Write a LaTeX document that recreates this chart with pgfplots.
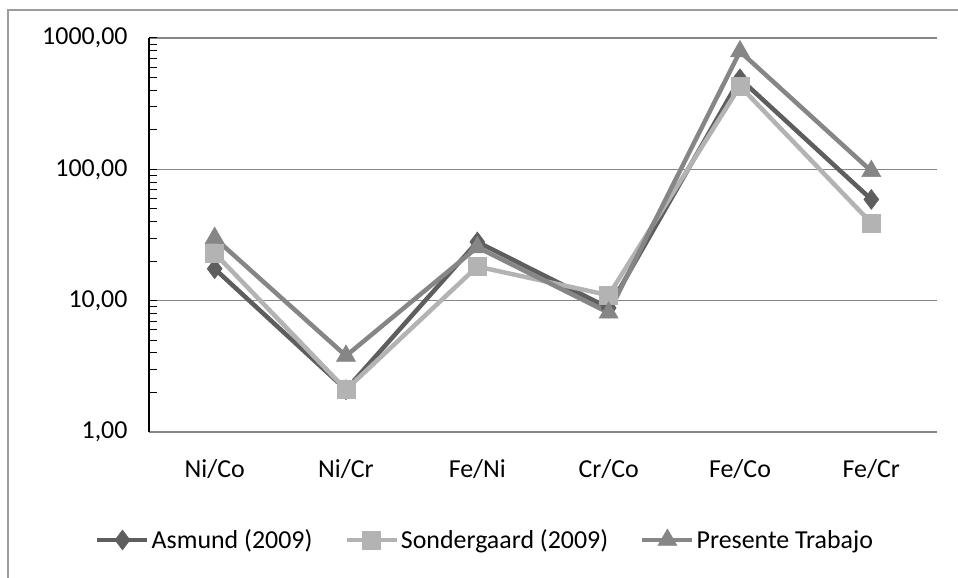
\documentclass[border=0pt]{standalone}
\usepackage{pgfplots}
\pgfplotsset{compat=1.18}
\usepackage{fontspec}
\setmainfont{Carlito}
\definecolor{cA}{HTML}{5E5E5E}
\definecolor{cS}{HTML}{B3B3B3}
\definecolor{cP}{HTML}{868686}
\definecolor{gridc}{HTML}{868686}
\definecolor{framec}{HTML}{9C9C9C}
\begin{document}
\begin{tikzpicture}
\useasboundingbox (0,0) rectangle (958bp,578bp);
\draw[framec, line width=1.2bp] (8bp,-10bp) rectangle (975bp,568bp);
\begin{axis}[
  at={(149bp,146bp)}, anchor=south west,
  width=788bp, height=394bp, scale only axis,
  ymode=log, ymin=1, ymax=1000,
  xmin=-0.5, xmax=5.5,
  xtick={0,1,2,3,4,5},
  xticklabels={Ni/Co,Ni/Cr,Fe/Ni,Cr/Co,Fe/Co,Fe/Cr},
  ytick={1,10,100,1000},
  yticklabels={{1,00},{10,00},{100,00},{1000,00}},
  minor ytick={2,3,4,5,6,7,8,9,20,30,40,50,60,70,80,90,200,300,400,500,600,700,800,900},
  axis x line=bottom, axis y line=left,
  x axis line style={-, draw=gridc, line width=1.2bp},
  y axis line style={-, draw=black, line width=1.2bp},
  xtick style={draw=none},
  ytick style={draw=black, line width=1bp},
  minor y tick style={draw=black, line width=1bp},
  tick align=inside,
  major tick length=8bp, minor tick length=8bp,
  ymajorgrids, major grid style={gridc, line width=1.2bp},
  yminorgrids=false,
  xticklabel style={font=\fontsize{26}{30}\selectfont, yshift=-24bp},
  yticklabel style={font=\fontsize{26}{30}\selectfont, xshift=-18bp},
  legend style={at={(-0.0685,-0.274)}, anchor=west, draw=none, fill=none,
    inner sep=0pt, font=\fontsize{26}{30}\selectfont,
    /tikz/every even column/.append style={column sep=30bp},
    nodes={inner xsep=2bp}},
  legend columns=3,
  legend image code/.code={\draw[mark repeat=2,mark phase=2] plot coordinates {(0bp,0bp) (25bp,0bp) (50bp,0bp)};},
  clip=false,
]
\addplot[cA, line width=4.5bp, mark=diamond*, mark size=10bp, mark options={solid, fill=cA, line width=0.5bp}]
  coordinates {(0,17.5) (1,2.1) (2,28) (3,8.8) (4,490) (5,59)};
\addlegendentry{Asmund (2009)}
\addplot[cS, line width=4.5bp, mark=square*, mark size=9bp, mark options={solid, fill=cS, line width=0.5bp}]
  coordinates {(0,23) (1,2.1) (2,18.2) (3,11) (4,430) (5,39)};
\addlegendentry{Sondergaard (2009)}
\addplot[cP, line width=4.5bp, mark=triangle*, mark size=11bp, mark options={solid, fill=cP, line width=0.5bp}]
  coordinates {(0,30) (1,3.8) (2,25.5) (3,8.1) (4,790) (5,97)};
\addlegendentry{Presente Trabajo}
\end{axis}
\end{tikzpicture}
\end{document}
